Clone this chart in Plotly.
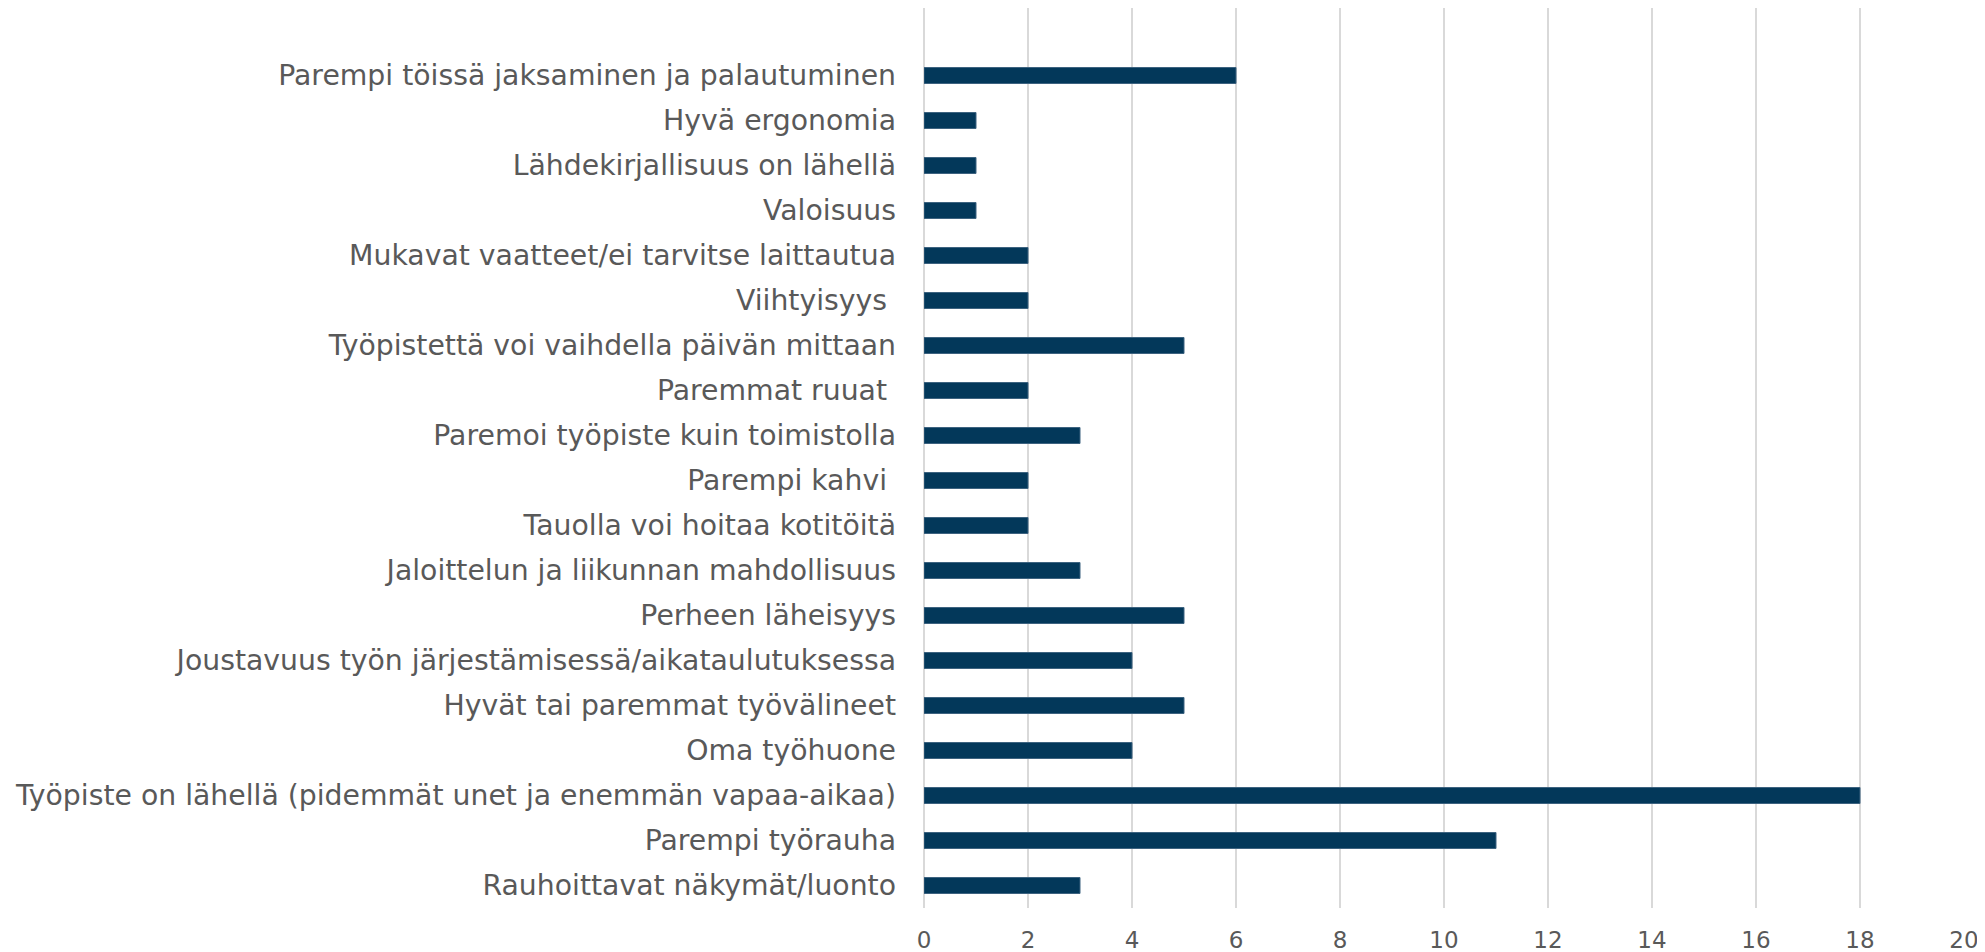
import plotly.graph_objects as go

categories = [
    "Parempi töissä jaksaminen ja palautuminen",
    "Hyvä ergonomia",
    "Lähdekirjallisuus on lähellä",
    "Valoisuus",
    "Mukavat vaatteet/ei tarvitse laittautua",
    "Viihtyisyys\u00a0",
    "Työpistettä voi vaihdella päivän mittaan",
    "Paremmat ruuat\u00a0",
    "Paremoi työpiste kuin toimistolla",
    "Parempi kahvi\u00a0",
    "Tauolla voi hoitaa kotitöitä",
    "Jaloittelun ja liikunnan mahdollisuus",
    "Perheen läheisyys",
    "Joustavuus työn järjestämisessä/aikataulutuksessa",
    "Hyvät tai paremmat työvälineet",
    "Oma työhuone",
    "Työpiste on lähellä (pidemmät unet ja enemmän vapaa-aikaa)",
    "Parempi työrauha",
    "Rauhoittavat näkymät/luonto",
]
values = [6, 1, 1, 1, 2, 2, 5, 2, 3, 2, 2, 3, 5, 4, 5, 4, 18, 11, 3]
x_ticks = [0, 2, 4, 6, 8, 10, 12, 14, 16, 18, 20]

# plot bottom-to-top
cats_plot = categories[::-1]
vals_plot = values[::-1]

fig = go.Figure(
    go.Bar(
        x=vals_plot,
        y=cats_plot,
        orientation="h",
        marker=dict(color="#03385a", line=dict(width=1, color="#3d6380")),
        hoverinfo="x+y",
    )
)

# page body has an 8px margin, so the figure is sized to fit inside it
fig.update_layout(
    width=1977,
    height=944,
    margin=dict(l=916, r=21, t=0, b=44, autoexpand=False),
    paper_bgcolor="white",
    plot_bgcolor="white",
    bargap=0.645,
    showlegend=False,
    font=dict(family="DejaVu Sans, Verdana, sans-serif", size=22, color="#595959"),
)

fig.update_xaxes(
    range=[0, 20],
    tickmode="array",
    tickvals=x_ticks,
    ticktext=[str(t) for t in x_ticks],
    showgrid=True,
    gridcolor="#d9d9d9",
    gridwidth=2,
    zeroline=True,
    zerolinecolor="#d9d9d9",
    zerolinewidth=2,
    showline=False,
    ticks="",
    automargin=False,
    ticklabelstandoff=16,
    ticklabeloverflow="allow",
    tickfont=dict(size=23, color="#595959"),
    fixedrange=True,
)

fig.update_yaxes(
    type="category",
    categoryorder="array",
    categoryarray=cats_plot,
    range=[-0.5, 19.5],
    showgrid=False,
    zeroline=False,
    showline=False,
    ticks="",
    automargin=False,
    ticklabelstandoff=27,
    tickfont=dict(size=28.3, color="#595959"),
    fixedrange=True,
)

fig.write_html("out.html")
